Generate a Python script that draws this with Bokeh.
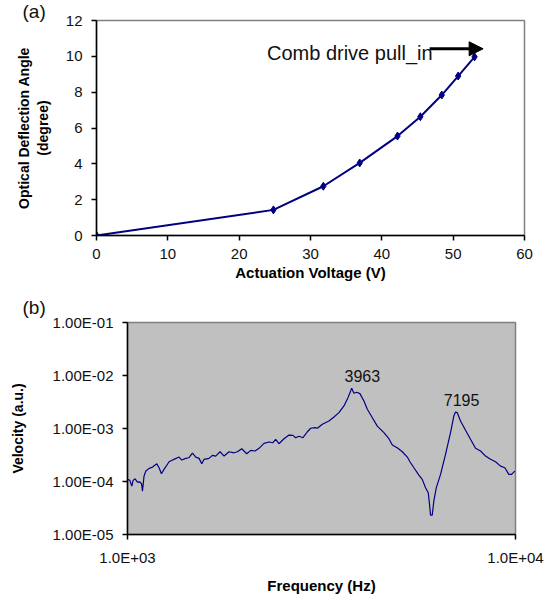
from bokeh.plotting import figure
from bokeh.models import Range1d, FixedTicker, Arrow, NormalHead, Label, Title
from bokeh.layouts import column, row
from bokeh.embed import file_html
from bokeh.resources import INLINE

FONT = "Liberation Sans"
NAVY = "#000080"

# ---- (a) deflection angle vs actuation voltage ----
voltage = [0, 24.8, 31.8, 36.9, 42.2, 45.4, 48.4, 50.7, 53.0]
angle = [0, 1.43, 2.75, 4.05, 5.55, 6.63, 7.84, 8.90, 9.97]
x_ticks_a = [0, 10, 20, 30, 40, 50, 60]
y_ticks_a = [0, 2, 4, 6, 8, 10, 12]

# ---- (b) velocity spectrum ----
freq = [1000, 1014, 1026, 1034, 1046, 1061, 1076, 1087, 1093, 1103, 1115, 1137,
        1160, 1190, 1206, 1223, 1242, 1280, 1318, 1358, 1380, 1413, 1440, 1470,
        1500, 1529, 1554, 1575, 1622, 1655, 1688, 1732, 1774, 1827, 1881, 1920,
        1970, 2029, 2078, 2131, 2183, 2248, 2316, 2371, 2409, 2457, 2531, 2608,
        2670, 2713, 2767, 2833, 2908, 2966, 3042, 3086, 3178, 3305, 3405, 3507,
        3613, 3700, 3760, 3783, 3834, 3896, 3972, 4068, 4151, 4276, 4404, 4580,
        4718, 4815, 4977, 5108, 5262, 5344, 5472, 5636, 5750, 5864, 5959, 6004,
        6040, 6101, 6159, 6248, 6410, 6602, 6800, 6935, 7006, 7077, 7217, 7434,
        7657, 7889, 8126, 8371, 8623, 8882, 9150, 9387, 9612, 9766, 9960]
velocity = [1.10e-4, 1.05e-4, 8.18e-5, 1.05e-4, 1.125e-4, 9.74e-5, 9.87e-5, 9.04e-5,
            6.58e-5, 1.265e-4, 1.573e-4, 1.77e-4, 1.87e-4, 2.16e-4, 1.815e-4, 1.40e-4,
            1.694e-4, 2.36e-4, 2.62e-4, 2.89e-4, 2.54e-4, 2.73e-4, 2.81e-4, 3.44e-4,
            2.89e-4, 2.73e-4, 2.16e-4, 2.62e-4, 2.73e-4, 3.11e-4, 3.02e-4, 3.64e-4,
            3.02e-4, 3.64e-4, 3.48e-4, 3.64e-4, 4.15e-4, 3.34e-4, 3.87e-4, 3.76e-4,
            4.23e-4, 5.25e-4, 5.56e-4, 5.39e-4, 6.25e-4, 5.16e-4, 6.41e-4, 7.53e-4,
            7.43e-4, 6.70e-4, 7.13e-4, 6.70e-4, 8.69e-4, 1.01e-3, 1.035e-3, 1.01e-3,
            1.20e-3, 1.39e-3, 1.65e-3, 1.99e-3, 2.66e-3, 3.82e-3, 5.12e-3, 5.75e-3,
            4.62e-3, 4.83e-3, 4.55e-3, 3.31e-3, 2.31e-3, 1.60e-3, 1.11e-3, 8.34e-4,
            6.41e-4, 4.88e-4, 4.23e-4, 3.64e-4, 2.89e-4, 2.36e-4, 1.815e-4, 1.32e-4,
            1.096e-4, 7.60e-5, 6.11e-5, 3.69e-5, 2.32e-5, 2.32e-5, 4.26e-5, 7.60e-5,
            1.36e-4, 3.25e-4, 8.34e-4, 1.72e-3, 2.05e-3, 1.99e-3, 1.39e-3, 9.25e-4,
            6.25e-4, 4.23e-4, 3.76e-4, 3.02e-4, 2.62e-4, 2.36e-4, 1.95e-4, 1.815e-4,
            1.36e-4, 1.36e-4, 1.573e-4]
x_ticks_b = [1000, 10000]
x_labels_b = ["1.0E+03", "1.0E+04"]
y_ticks_b = [1e-5, 1e-4, 1e-3, 1e-2, 1e-1]
y_labels_b = ["1.00E-05", "1.00E-04", "1.00E-03", "1.00E-02", "1.00E-01"]
peak_freqs = [4030, 7261]
peak_label_y = [9.8e-3, 3.4e-3]
peak_texts = ["3963", "7195"]


def style_axes(p, tick_size="15px", xlabel_size="15px", ylabel_size="14px"):
    for ax in (p.xaxis[0], p.yaxis[0]):
        ax.axis_line_color = "black"
        ax.axis_line_width = 1.5
        ax.major_tick_line_color = "black"
        ax.major_tick_line_width = 1.5
        ax.major_tick_in = 0
        ax.major_tick_out = 5
        ax.minor_tick_line_color = None
        ax.major_label_text_font = FONT
        ax.major_label_text_font_size = tick_size
        ax.major_label_text_color = "#111111"
        ax.axis_label_text_font = FONT
        ax.axis_label_text_font_style = "bold"
        ax.axis_label_text_color = "black"
    p.xaxis[0].axis_label_text_font_size = xlabel_size
    p.yaxis[0].axis_label_text_font_size = ylabel_size
    p.xgrid.grid_line_color = None
    p.ygrid.grid_line_color = None
    p.outline_line_color = "#808080"
    p.outline_line_width = 1.5


def panel_title(text, offset, standoff):
    return Title(text=text, align="left", offset=offset, standoff=standoff,
                 text_font=FONT, text_font_size="19px", text_font_style="normal",
                 text_color="#111111")


# ---------------- (a) ----------------
p1 = figure(frame_width=428, frame_height=215,
            min_border_left=96, min_border_right=24,
            min_border_top=20, min_border_bottom=53,
            x_range=Range1d(0, 60), y_range=Range1d(0, 12),
            title=panel_title("(a)", -74, -3),
            output_backend="svg", toolbar_location=None)
style_axes(p1)
p1.xaxis.ticker = FixedTicker(ticks=x_ticks_a)
p1.yaxis.ticker = FixedTicker(ticks=y_ticks_a)
p1.xaxis.major_label_standoff = 8
p1.yaxis.major_label_standoff = 9
p1.xaxis.axis_label = "Actuation Voltage (V)"
p1.yaxis.axis_label = "Optical Deflection Angle\n(degree)"
p1.xaxis.axis_label_standoff = 2
p1.yaxis.axis_label_standoff = 12

p1.line(voltage, angle, line_color=NAVY, line_width=2)
p1.scatter(voltage, angle, marker="diamond", size=8, color=NAVY)

p1.add_layout(Arrow(end=NormalHead(size=14, fill_color="black", line_color="black"),
                    x_start=46.7, y_start=10.42, x_end=54.2, y_end=10.42,
                    line_width=3, line_color="black"))
p1.add_layout(Label(x=23.9, y=10.2, text="Comb drive pull_in",
                    text_font=FONT, text_font_size="20px", text_color="#111111",
                    text_baseline="middle", text_align="left"))

# ---------------- (b) ----------------
p2 = figure(frame_width=388, frame_height=212,
            min_border_left=127, min_border_right=40,
            min_border_top=34, min_border_bottom=58,
            x_axis_type="log", y_axis_type="log",
            x_range=Range1d(1000, 10000), y_range=Range1d(1e-5, 1e-1),
            title=panel_title("(b)", -105, 10),
            output_backend="svg", toolbar_location=None)
style_axes(p2)
p2.background_fill_color = "#c0c0c0"
p2.xaxis.ticker = FixedTicker(ticks=x_ticks_b)
p2.yaxis.ticker = FixedTicker(ticks=y_ticks_b)
p2.xaxis.major_label_overrides = {t: s for t, s in zip(x_ticks_b, x_labels_b)}
p2.yaxis.major_label_overrides = {t: s for t, s in zip(y_ticks_b, y_labels_b)}
p2.xaxis.major_label_standoff = 9
p2.yaxis.major_label_standoff = 9
p2.xaxis.axis_label = "Frequency (Hz)"
p2.yaxis.axis_label = "Velocity (a.u.)"
p2.xaxis.axis_label_standoff = 8
p2.yaxis.axis_label_standoff = 24

p2.line(freq, velocity, line_color=NAVY, line_width=1.2)
for fx, fy, t in zip(peak_freqs, peak_label_y, peak_texts):
    p2.add_layout(Label(x=fx, y=fy, text=t, text_font=FONT, text_font_size="16px",
                        text_color="#111111", text_align="center",
                        text_baseline="middle"))

layout = column(row(p1), row(p2))
open("out.html", "w").write(file_html(layout, INLINE))
